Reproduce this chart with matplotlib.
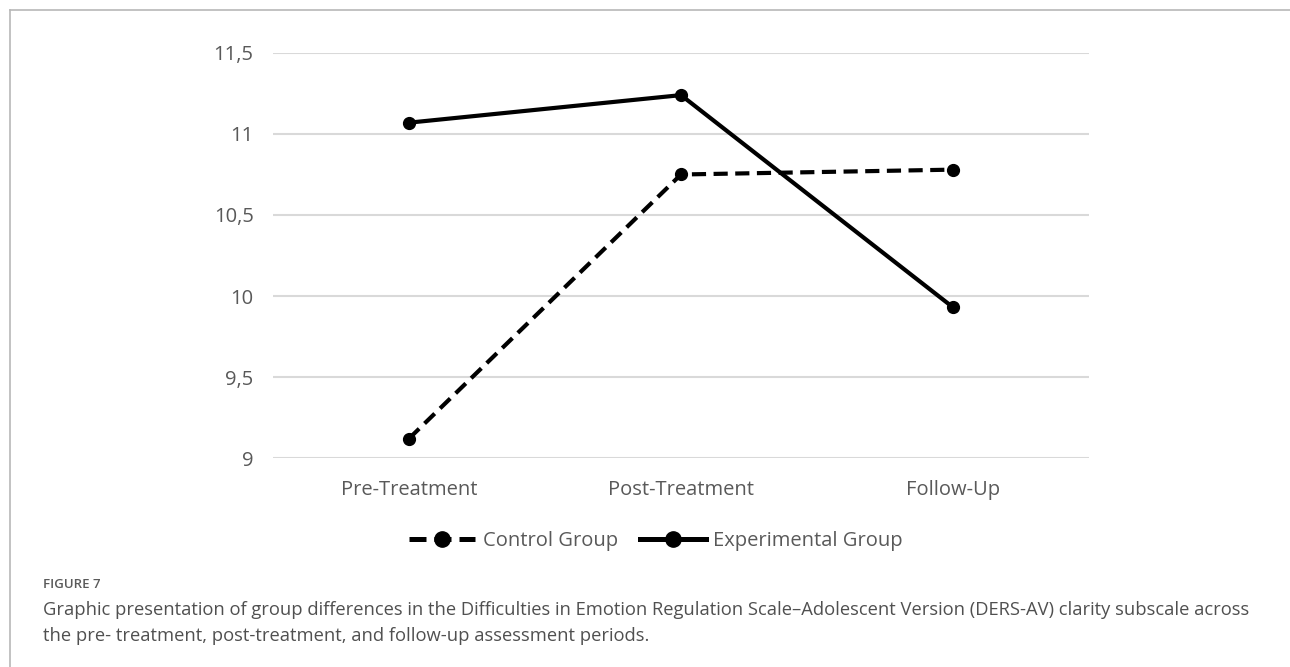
import matplotlib
matplotlib.use('Agg')
import matplotlib.pyplot as plt
from matplotlib.lines import Line2D

periods = ['Pre-Treatment', 'Post-Treatment', 'Follow-Up']
control = [9.12, 10.75, 10.78]
experimental = [11.07, 11.24, 9.93]
yticks = [9, 9.5, 10, 10.5, 11, 11.5]
ytick_labels = ['9', '9,5', '10', '10,5', '11', '11,5']

plt.rcParams['font.family'] = ['Open Sans', 'DejaVu Sans']

W, H = 1290, 667
fig = plt.figure(figsize=(12.9, 6.67), dpi=100)
ax = fig.add_axes([273 / W, 1 - 458 / H, 816 / W, (458 - 53) / H])

x = list(range(len(periods)))
dash = (0, (3.4, 1.8))
ax.plot(x, control, color='black', lw=3, ls=dash, marker='o', ms=8.5, label='Control Group')
ax.plot(x, experimental, color='black', lw=3, marker='o', ms=8.5, label='Experimental Group')

ax.set_xlim(-0.5, 2.5)
ax.set_ylim(9, 11.5)
ax.set_yticks(yticks)
ax.set_yticklabels(ytick_labels)
ax.set_xticks(x)
ax.set_xticklabels(periods)
ax.tick_params(length=0, labelsize=14.5, labelcolor='#595959')
ax.tick_params(axis='x', pad=16)
ax.tick_params(axis='y', pad=14)
ax.grid(axis='y', color='#d9d9d9', lw=1.5)
ax.set_axisbelow(True)
for s in ax.spines.values():
    s.set_visible(False)

handles = [Line2D([], [], color='black', lw=3.6, ls=(0, (3.4, 1.6)), marker='o', ms=11),
           Line2D([], [], color='black', lw=3.6, marker='o', ms=11)]
fig.legend(handles, ['Control Group', 'Experimental Group'], loc='center',
           bbox_to_anchor=(656 / W, 1 - 541 / H), ncol=2, frameon=False,
           fontsize=14.5, handlelength=3.3, columnspacing=1.1, handletextpad=0.35,
           labelcolor='#595959')

# panel frame (top and left edges)
fig.add_artist(Line2D([10 / W, 1], [1 - 10 / H, 1 - 10 / H], color='#b8b8b8', lw=1.2))
fig.add_artist(Line2D([10 / W, 10 / W], [0, 1 - 10 / H], color='#b8b8b8', lw=1.2))

fig.text(43 / W, 1 - 585 / H, 'FIGURE 7', fontsize=9.5, color='#5a5a5a', va='center',
         fontweight='semibold')
fig.text(43 / W, 1 - 610 / H,
         'Graphic presentation of group differences in the Difficulties in Emotion Regulation Scale\u2013Adolescent Version (DERS-AV) clarity subscale across',
         fontsize=13.2, color='#505050', va='center')
fig.text(43 / W, 1 - 636 / H, 'the pre- treatment, post-treatment, and follow-up assessment periods.',
         fontsize=13.2, color='#505050', va='center')

fig.savefig('out.png', dpi=100)
